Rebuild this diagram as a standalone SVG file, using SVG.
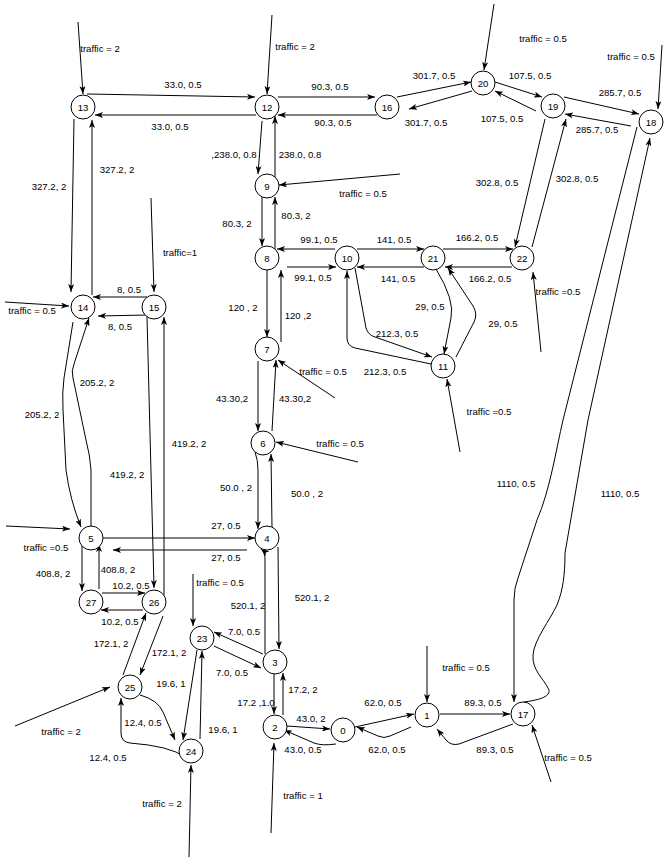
<svg xmlns="http://www.w3.org/2000/svg" width="670" height="864" viewBox="0 0 670 864">
<defs>
  <marker id="a" viewBox="0 0 8 6" refX="8" refY="3" markerWidth="8" markerHeight="6" markerUnits="userSpaceOnUse" orient="auto">
    <path d="M0,0 L8,3 L0,6 L2,3 z" fill="#000"/>
  </marker>
</defs>
<style>
  .e path { fill: none; stroke: #000; stroke-width: 1; marker-end: url(#a); }
  .n circle { fill: #fff; stroke: #000; stroke-width: 1; }
  text { font-family: "Liberation Sans", Arial, sans-serif; font-size: 9.6px; fill: #000; text-anchor: middle; dominant-baseline: central; }
</style>
<rect width="670" height="864" fill="#fff"/>

<!-- connectors -->
<g id="connectors" class="e">
  <!-- top row -->
  <path d="M78,22 L83,94"/>
  <path d="M87,94 L255,97"/>
  <path d="M256,115 L95,115"/>
  <path d="M272,15 L267,94"/>
  <path d="M278,97 L375,97"/>
  <path d="M377,115 L278,115"/>
  <path d="M397,97 L471,82"/>
  <path d="M472,91 L409,109"/>
  <path d="M494,4 L484,70"/>
  <path d="M495,82 L542,97"/>
  <path d="M536,111 L495,91"/>
  <path d="M564,97 L639,114"/>
  <path d="M631,126 L565,114"/>
  <path d="M662,45 L658,109"/>
  <path d="M545,119 L515,247"/>
  <path d="M532,247 L566,119"/>
  <!-- 12 / 9 / 8 column -->
  <path d="M262,121 L258,174"/>
  <path d="M275,178 L275,116"/>
  <path d="M400,174 L279,185"/>
  <path d="M262,197 L262,246"/>
  <path d="M275,249 L275,197"/>
  <!-- 8 / 10 / 21 / 22 row -->
  <path d="M335,249 L277,249"/>
  <path d="M287,267 L336,267"/>
  <path d="M357,249 L424,249"/>
  <path d="M424,267 L357,267"/>
  <path d="M443,249 L513,249"/>
  <path d="M512,267 L445,267"/>
  <path d="M436,269 Q455,300 451,318 L444,354"/>
  <path d="M456,357 L474,322 Q478,314 473,306 L448,268"/>
  <path d="M355,268 L366,328 Q368,335 375,337 L432,357"/>
  <path d="M431,364 L355,348 Q347,346 347,338 L347,271"/>
  <path d="M460,452 L447,379"/>
  <path d="M541,352 L533,272"/>
  <!-- 8 / 7 / 6 / 4 column -->
  <path d="M267,270 L267,337"/>
  <path d="M281,342 L281,270"/>
  <path d="M335,398 L278,360"/>
  <path d="M258,361 L258,431"/>
  <path d="M272,431 L276,360"/>
  <path d="M358,462 L276,442"/>
  <path d="M255,452 Q258,460 258,470 L258,529"/>
  <path d="M272,527 L271,454"/>
  <!-- left side -->
  <path d="M74,119 L71,292"/>
  <path d="M92,295 L92,120"/>
  <path d="M5,302 L69,306"/>
  <path d="M151,198 L154,292"/>
  <path d="M147,297 L93,297"/>
  <path d="M147,315 L98,316"/>
  <path d="M73,322 L64,378 Q62,392 63,410 L66,470 Q70,500 81,527"/>
  <path d="M91,526 L91,470 Q90,455 86,440 L73,378 Q71,371 74,364 L89,318"/>
  <path d="M147,317 L154,588"/>
  <path d="M164,595 L164,317"/>
  <!-- 5 / 4 row -->
  <path d="M103,538 L255,538"/>
  <path d="M247,550 L113,550"/>
  <path d="M6,526 L70,529"/>
  <path d="M82,546 L82,591"/>
  <path d="M99,589 L99,544"/>
  <path d="M102,593 L145,593"/>
  <path d="M143,610 L101,610"/>
  <!-- bottom left cluster -->
  <path d="M123,675 L146,613"/>
  <path d="M163,616 L140,675"/>
  <path d="M15,726 L110,687"/>
  <path d="M140,695 Q158,700 163,712 L175,740"/>
  <path d="M185,757 Q170,746 130,743 Q121,742 121,733 L121,698"/>
  <path d="M197,650 L183,740"/>
  <path d="M200,739 L202,651"/>
  <path d="M189,857 L191,765"/>
  <path d="M193,574 L193,626"/>
  <path d="M263,654 L214,632"/>
  <path d="M214,646 L261,668"/>
  <!-- 4 / 3 / 2 column -->
  <path d="M278,547 L279,649"/>
  <path d="M265,654 L265,560 Q265,552 261,549"/>
  <path d="M274,674 L274,714"/>
  <path d="M283,715 L283,673"/>
  <path d="M271,833 L274,743"/>
  <!-- bottom row -->
  <path d="M287,726 L330,729"/>
  <path d="M336,744 Q322,746 314,743 L284,730"/>
  <path d="M355,727 L414,714"/>
  <path d="M411,727 L390,736 Q384,739 378,736 L357,727"/>
  <path d="M427,646 L427,702"/>
  <path d="M440,714 L510,714"/>
  <path d="M513,724 L459,744 Q451,746 446,740 L437,729"/>
  <path d="M551,782 L532,725"/>
  <!-- long links 18 / 17 -->
  <path d="M637,127 L563,420 C556,450 550,490 537,520 L518,578 Q514,588 514,600 L514,702"/>
  <path d="M524,702 C540,700 553,696 548,688 C543,678 532,670 533,655 C534,640 550,620 557,605 C563,590 565,575 565,553 L588,420 L650,138"/>
</g>

<!-- connector labels -->
<g id="labels">
  <text x="100" y="48">traffic = 2</text>
  <text x="183" y="84">33.0, 0.5</text>
  <text x="170" y="126">33.0, 0.5</text>
  <text x="295" y="46">traffic = 2</text>
  <text x="330" y="86">90.3, 0.5</text>
  <text x="333" y="122">90.3, 0.5</text>
  <text x="434" y="75">301.7, 0.5</text>
  <text x="426" y="122">301.7, 0.5</text>
  <text x="543" y="38">traffic = 0.5</text>
  <text x="530" y="75">107.5, 0.5</text>
  <text x="502" y="118">107.5, 0.5</text>
  <text x="620" y="92">285.7, 0.5</text>
  <text x="597" y="129">285.7, 0.5</text>
  <text x="631" y="56">traffic = 0.5</text>
  <text x="49" y="186">327.2, 2</text>
  <text x="117" y="169">327.2, 2</text>
  <text x="234" y="154">,238.0, 0.8</text>
  <text x="300" y="154">238.0, 0.8</text>
  <text x="363" y="193">traffic = 0.5</text>
  <text x="497" y="182">302.8, 0.5</text>
  <text x="577" y="178">302.8, 0.5</text>
  <text x="237" y="223">80.3, 2</text>
  <text x="296" y="215">80.3, 2</text>
  <text x="319" y="239">99.1, 0.5</text>
  <text x="313" y="277">99.1, 0.5</text>
  <text x="394" y="239">141, 0.5</text>
  <text x="398" y="278">141, 0.5</text>
  <text x="477" y="237">166.2, 0.5</text>
  <text x="490" y="278">166.2, 0.5</text>
  <text x="180" y="252">traffic=1</text>
  <text x="32" y="310">traffic = 0.5</text>
  <text x="129" y="289">8, 0.5</text>
  <text x="120" y="326">8, 0.5</text>
  <text x="558" y="291">traffic =0.5</text>
  <text x="243" y="307">120 , 2</text>
  <text x="298" y="315">120 ,2</text>
  <text x="430" y="306">29, 0.5</text>
  <text x="503" y="323">29, 0.5</text>
  <text x="397" y="333">212.3, 0.5</text>
  <text x="385" y="371">212.3, 0.5</text>
  <text x="323" y="371">traffic = 0.5</text>
  <text x="42" y="414">205.2, 2</text>
  <text x="97" y="382">205.2, 2</text>
  <text x="232" y="398">43.30,2</text>
  <text x="295" y="398">43.30,2</text>
  <text x="489" y="411">traffic =0.5</text>
  <text x="127" y="474">419.2, 2</text>
  <text x="189" y="443">419.2, 2</text>
  <text x="340" y="443">traffic = 0.5</text>
  <text x="236" y="487">50.0 , 2</text>
  <text x="307" y="493">50.0 , 2</text>
  <text x="516" y="483">1110, 0.5</text>
  <text x="620" y="493">1110, 0.5</text>
  <text x="226" y="525">27, 0.5</text>
  <text x="226" y="557">27, 0.5</text>
  <text x="46" y="547">traffic =0.5</text>
  <text x="53" y="573">408.8, 2</text>
  <text x="118" y="569">408.8, 2</text>
  <text x="131" y="585">10.2, 0.5</text>
  <text x="120" y="621">10.2, 0.5</text>
  <text x="220" y="582">traffic = 0.5</text>
  <text x="312" y="597">520.1, 2</text>
  <text x="248" y="605">520.1, 2</text>
  <text x="244" y="631">7.0, 0.5</text>
  <text x="232" y="672">7.0, 0.5</text>
  <text x="111" y="643">172.1, 2</text>
  <text x="169" y="652">172.1, 2</text>
  <text x="171" y="683">19.6, 1</text>
  <text x="223" y="729">19.6, 1</text>
  <text x="61" y="731">traffic = 2</text>
  <text x="143" y="722">12.4, 0.5</text>
  <text x="108" y="757">12.4, 0.5</text>
  <text x="162" y="803">traffic = 2</text>
  <text x="303" y="689">17.2, 2</text>
  <text x="256" y="702">17.2 ,1.0</text>
  <text x="311" y="718">43.0, 2</text>
  <text x="303" y="749">43.0, 0.5</text>
  <text x="383" y="702">62.0, 0.5</text>
  <text x="387" y="749">62.0, 0.5</text>
  <text x="303" y="795">traffic = 1</text>
  <text x="466" y="667">traffic = 0.5</text>
  <text x="483" y="702">89.3, 0.5</text>
  <text x="495" y="749">89.3, 0.5</text>
  <text x="568" y="757">traffic = 0.5</text>
</g>

<!-- nodes -->
<g id="n0" class="n"><circle cx="343" cy="730" r="12"/><text x="343" y="730">0</text></g>
<g id="n1" class="n"><circle cx="427" cy="715" r="12"/><text x="427" y="715">1</text></g>
<g id="n2" class="n"><circle cx="275" cy="727" r="12"/><text x="275" y="727">2</text></g>
<g id="n3" class="n"><circle cx="275" cy="662" r="12"/><text x="275" y="662">3</text></g>
<g id="n4" class="n"><circle cx="267" cy="538" r="12"/><text x="267" y="538">4</text></g>
<g id="n5" class="n"><circle cx="91" cy="538" r="12"/><text x="91" y="538">5</text></g>
<g id="n6" class="n"><circle cx="263" cy="443" r="12"/><text x="263" y="443">6</text></g>
<g id="n7" class="n"><circle cx="267" cy="349" r="12"/><text x="267" y="349">7</text></g>
<g id="n8" class="n"><circle cx="267" cy="258" r="12"/><text x="267" y="258">8</text></g>
<g id="n9" class="n"><circle cx="267" cy="186" r="12"/><text x="267" y="186">9</text></g>
<g id="n10" class="n"><circle cx="347" cy="258" r="12"/><text x="347" y="258">10</text></g>
<g id="n11" class="n"><circle cx="443" cy="366" r="12"/><text x="443" y="366">11</text></g>
<g id="n12" class="n"><circle cx="267" cy="107" r="12"/><text x="267" y="107">12</text></g>
<g id="n13" class="n"><circle cx="83" cy="107" r="12"/><text x="83" y="107">13</text></g>
<g id="n14" class="n"><circle cx="83" cy="307" r="12"/><text x="83" y="307">14</text></g>
<g id="n15" class="n"><circle cx="154" cy="307" r="12"/><text x="154" y="307">15</text></g>
<g id="n16" class="n"><circle cx="387" cy="107" r="12"/><text x="387" y="107">16</text></g>
<g id="n17" class="n"><circle cx="523" cy="714" r="12"/><text x="523" y="714">17</text></g>
<g id="n18" class="n"><circle cx="651" cy="122" r="12"/><text x="651" y="122">18</text></g>
<g id="n19" class="n"><circle cx="553" cy="106" r="12"/><text x="553" y="106">19</text></g>
<g id="n20" class="n"><circle cx="483" cy="83" r="12"/><text x="483" y="83">20</text></g>
<g id="n21" class="n"><circle cx="433" cy="258" r="12"/><text x="433" y="258">21</text></g>
<g id="n22" class="n"><circle cx="522" cy="258" r="12"/><text x="522" y="258">22</text></g>
<g id="n23" class="n"><circle cx="202" cy="638" r="12"/><text x="202" y="638">23</text></g>
<g id="n24" class="n"><circle cx="191" cy="751" r="12"/><text x="191" y="751">24</text></g>
<g id="n25" class="n"><circle cx="130" cy="687" r="12"/><text x="130" y="687">25</text></g>
<g id="n26" class="n"><circle cx="154" cy="602" r="12"/><text x="154" y="602">26</text></g>
<g id="n27" class="n"><circle cx="91" cy="602" r="12"/><text x="91" y="602">27</text></g>
</svg>
